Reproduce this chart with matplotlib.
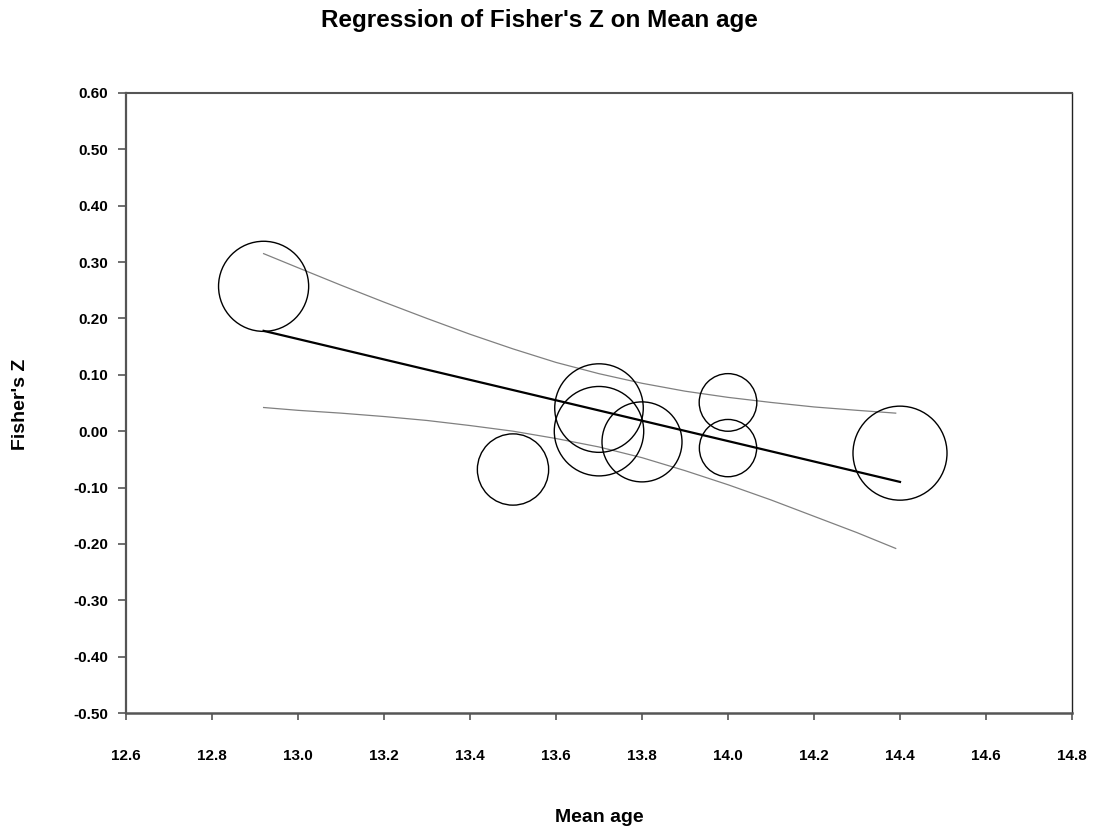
import matplotlib
matplotlib.use("Agg")
import matplotlib.pyplot as plt
import numpy as np

plt.rcParams['font.family'] = ['Liberation Sans', 'DejaVu Sans']

# Study data (Mean age vs Fisher's Z), bubble weight ~ relative area
mean_age = [12.92, 13.50, 13.70, 13.70, 13.80, 14.00, 14.00, 14.40]
fisher_z = [0.257, -0.068, 0.041, 0.000, -0.019, 0.051, -0.030, -0.039]
weights = [20.3, 12.7, 19.6, 20.0, 16.0, 8.3, 8.2, 22.1]

# Regression line
reg_x = [12.92, 14.40]
reg_y = [0.178, -0.090]

# Confidence band
ci_x = [12.92, 13.0, 13.1, 13.2, 13.3, 13.4, 13.5, 13.6, 13.7, 13.8,
        13.9, 14.0, 14.1, 14.2, 14.3, 14.39]
ci_upper = [0.315, 0.290, 0.259, 0.229, 0.200, 0.172, 0.146, 0.122, 0.102,
            0.085, 0.071, 0.060, 0.051, 0.043, 0.037, 0.032]
ci_lower = [0.042, 0.037, 0.032, 0.026, 0.019, 0.010, 0.000, -0.013, -0.028,
            -0.047, -0.070, -0.095, -0.122, -0.151, -0.180, -0.208]

xticks = [12.6, 12.8, 13.0, 13.2, 13.4, 13.6, 13.8, 14.0, 14.2, 14.4, 14.6, 14.8]
yticks = [-0.50, -0.40, -0.30, -0.20, -0.10, 0.00, 0.10, 0.20, 0.30, 0.40, 0.50, 0.60]

fig = plt.figure(figsize=(10.94, 8.30), dpi=100)
ax = fig.add_axes([126/1094, 1 - 713/830, (1072 - 126)/1094, (713 - 93)/830])

ax.plot(ci_x, ci_upper, color='#808080', lw=0.9, zorder=2)
ax.plot(ci_x, ci_lower, color='#808080', lw=0.9, zorder=2)
ax.plot(reg_x, reg_y, color='black', lw=1.6, zorder=3)

# radius(px) = 10*sqrt(weight); convert to points diameter
sizes = [(2 * 10 * np.sqrt(w) * 0.72) ** 2 for w in weights]
ax.scatter(mean_age, fisher_z, s=sizes, facecolors='none', edgecolors='black',
           linewidths=1.0, zorder=4)

ax.set_xlim(12.6, 14.8)
ax.set_ylim(-0.50, 0.60)
ax.set_xticks(xticks)
ax.set_xticklabels([f"{v:.1f}" for v in xticks])
ax.set_yticks(yticks)
ax.set_yticklabels([f"{v:.2f}" for v in yticks])

for lab in ax.get_xticklabels() + ax.get_yticklabels():
    lab.set_fontweight('bold')
    lab.set_fontsize(11)

ax.tick_params(axis='x', direction='out', length=5, width=1.2, color='#555555', pad=21)
ax.tick_params(axis='y', direction='out', length=6, width=1.2, color='#555555', pad=7)

ax.spines['left'].set_color('#555555')
ax.spines['left'].set_linewidth(1.6)
ax.spines['bottom'].set_color('#555555')
ax.spines['bottom'].set_linewidth(1.8)
ax.spines['top'].set_color('#555555')
ax.spines['top'].set_linewidth(1.5)
ax.spines['right'].set_color('#222222')
ax.spines['right'].set_linewidth(1.0)

fig.text(539/1094, 1 - 27.5/830, "Regression of Fisher's Z on Mean age",
         ha='center', va='baseline', fontsize=17.5, fontweight='bold')
fig.text(599/1094, 1 - 822/830, "Mean age", ha='center', va='baseline',
         fontsize=14, fontweight='bold')
fig.text(21/1094, 1 - 404/830, "Fisher's Z", ha='center', va='center',
         rotation=90, fontsize=14, fontweight='bold')

fig.savefig("out.png", dpi=100)
